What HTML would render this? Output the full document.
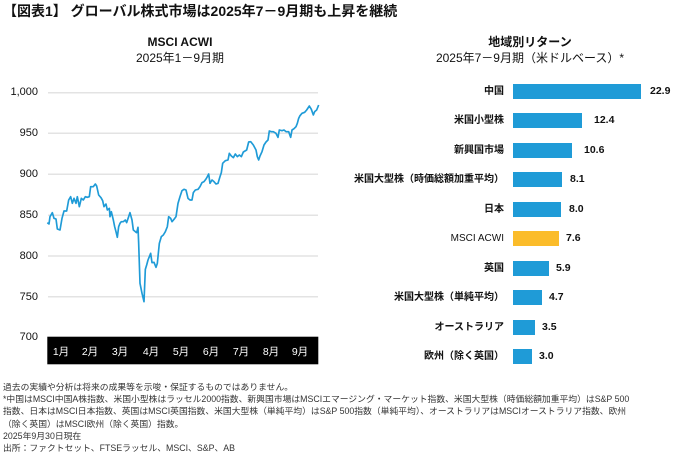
<!DOCTYPE html>
<html><head><meta charset="utf-8"><style>
body{margin:0;width:673px;height:458px;background:#fff;position:relative;overflow:hidden;font-family:"Liberation Sans","Noto Sans CJK JP",sans-serif;color:#111}
.a{position:absolute;white-space:nowrap}
.t{left:3px;top:1px;font-size:14px;font-weight:bold}
.h{text-align:center;font-size:12px;line-height:16px}
.foot{left:3px;top:381px;font-size:8.8px;line-height:12.2px;color:#333}
.yl{font-size:11px;right:635px;width:40px;text-align:right}
.bl{font-size:10px;font-weight:bold;text-align:right;right:169px;line-height:15px}
.bv{font-size:10.5px;font-weight:bold;line-height:15px}
.bar{position:absolute;left:513px;height:15px;background:#1f9bd7}
</style></head><body>
<div class="a t">【図表1】 グローバル株式市場は2025年7－9月期も上昇を継続</div>
<div class="a h" style="left:80px;width:200px;top:34px"><b>MSCI ACWI</b><br>2025年1－9月期</div>
<div class="a h" style="left:380px;width:300px;top:34px"><b>地域別リターン</b><br>2025年7－9月期（米ドルベース）*</div>
<svg class="a" style="left:0;top:0" width="340" height="370">
<g stroke="#e3e3e3" stroke-width="1.5">
<line x1="48" x2="318" y1="92.7" y2="92.7"/><line x1="48" x2="318" y1="133.3" y2="133.3"/><line x1="48" x2="318" y1="174.3" y2="174.3"/><line x1="48" x2="318" y1="215.3" y2="215.3"/><line x1="48" x2="318" y1="256" y2="256"/><line x1="48" x2="318" y1="296.7" y2="296.7"/></g>
<rect x="47.3" y="336.7" width="271" height="27.6" fill="#000"/>
<g fill="#fff" font-size="10.5" font-family="Liberation Sans,Noto Sans CJK JP,sans-serif" text-anchor="middle">
<text x="61" y="355">1月</text><text x="90" y="355">2月</text><text x="120" y="355">3月</text><text x="151" y="355">4月</text><text x="181" y="355">5月</text><text x="211" y="355">6月</text><text x="241" y="355">7月</text><text x="271" y="355">8月</text><text x="300" y="355">9月</text></g>
<polyline transform="translate(0,30) scale(0.33333)" fill="none" stroke="#1f9bd7" stroke-width="5" stroke-linejoin="round" points="142,578 147,582 150,560 157,548 162,565 168,567 172,597 180,600 186,565 192,543 200,543 206,510 212,500 217,520 222,505 228,520 232,500 238,530 244,505 250,510 256,500 262,502 268,500 272,470 280,470 286,462 290,468 296,495 303,503 308,512 312,530 318,522 322,540 328,535 330,560 334,545 340,570 344,590 348,605 352,622 356,590 360,580 364,575 370,575 376,570 380,578 386,560 390,548 396,570 400,600 406,605 410,608 414,592 416,640 420,760 426,790 432,815 436,718 440,705 444,690 448,680 452,670 456,698 462,697 468,712 472,700 478,640 484,620 490,615 496,605 502,590 506,560 512,565 516,575 522,568 528,560 534,520 540,500 546,482 552,478 558,480 564,505 570,510 576,510 580,488 586,480 594,478 600,470 606,458 612,455 618,447 622,440 626,432 630,460 636,450 642,455 648,462 654,460 660,440 664,428 668,400 676,392 684,390 688,370 694,378 700,383 706,372 712,380 718,375 724,380 730,366 740,360 746,336 752,335 760,345 768,360 772,380 776,390 780,378 786,365 792,345 798,336 804,330 808,303 814,305 820,305 828,310 834,322 838,300 846,302 852,300 858,305 866,305 872,322 876,300 882,296 888,290 892,280 896,265 900,257 906,250 914,247 920,240 928,228 934,238 940,255 944,245 950,240 956,225"/>
</svg>
<div class="a yl" style="top:86px">1,000</div>
<div class="a yl" style="top:127px">950</div>
<div class="a yl" style="top:168px">900</div>
<div class="a yl" style="top:209px">850</div>
<div class="a yl" style="top:250px">800</div>
<div class="a yl" style="top:291px">750</div>
<div class="a yl" style="top:331px">700</div>

<div class="bar" style="top:84px;width:128px"></div><div class="a bl" style="top:84px">中国</div><div class="a bv" style="top:84px;left:650px">22.9</div>
<div class="bar" style="top:113px;width:69px"></div><div class="a bl" style="top:113px">米国小型株</div><div class="a bv" style="top:113px;left:594px">12.4</div>
<div class="bar" style="top:143px;width:59px"></div><div class="a bl" style="top:143px">新興国市場</div><div class="a bv" style="top:143px;left:584px">10.6</div>
<div class="bar" style="top:172px;width:49px"></div><div class="a bl" style="top:172px">米国大型株（時価総額加重平均）</div><div class="a bv" style="top:172px;left:570px">8.1</div>
<div class="bar" style="top:202px;width:48px"></div><div class="a bl" style="top:202px">日本</div><div class="a bv" style="top:202px;left:569px">8.0</div>
<div class="bar" style="top:231px;width:46px;background:#fbbc2a"></div><div class="a bl" style="top:231px;font-weight:normal">MSCI ACWI</div><div class="a bv" style="top:231px;left:566px">7.6</div>
<div class="bar" style="top:261px;width:36px"></div><div class="a bl" style="top:261px">英国</div><div class="a bv" style="top:261px;left:556px">5.9</div>
<div class="bar" style="top:290px;width:29px"></div><div class="a bl" style="top:290px">米国大型株（単純平均）</div><div class="a bv" style="top:290px;left:549px">4.7</div>
<div class="bar" style="top:320px;width:22px"></div><div class="a bl" style="top:320px">オーストラリア</div><div class="a bv" style="top:320px;left:542px">3.5</div>
<div class="bar" style="top:349px;width:19px"></div><div class="a bl" style="top:349px">欧州（除く英国）</div><div class="a bv" style="top:349px;left:539px">3.0</div>

<div class="a foot">過去の実績や分析は将来の成果等を示唆・保証するものではありません。<br>*中国はMSCI中国A株指数、米国小型株はラッセル2000指数、新興国市場はMSCIエマージング・マーケット指数、米国大型株（時価総額加重平均）はS&amp;P 500<br>指数、日本はMSCI日本指数、英国はMSCI英国指数、米国大型株（単純平均）はS&amp;P 500指数（単純平均）、オーストラリアはMSCIオーストラリア指数、欧州<br>（除く英国）はMSCI欧州（除く英国）指数。<br>2025年9月30日現在<br>出所：ファクトセット、FTSEラッセル、MSCI、S&amp;P、AB</div>
</body></html>
